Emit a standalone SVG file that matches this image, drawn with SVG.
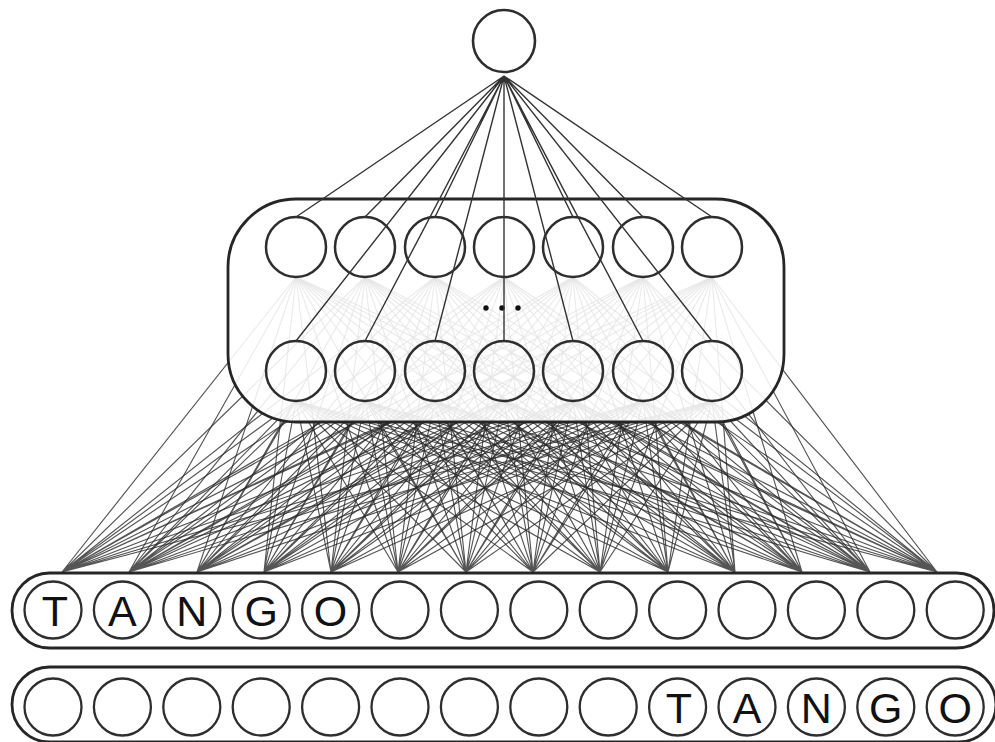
<svg xmlns="http://www.w3.org/2000/svg" width="995" height="742" viewBox="0 0 995 742">
<style>
.fan{fill:none;stroke:#2a2a2a;stroke-width:1.15;stroke-opacity:0.8}
.top{fill:none;stroke:#333;stroke-width:1.4}
.unit{fill:none;stroke:#2e2e2e;stroke-width:2.5}
.inunit{fill:#fff;stroke:#2e2e2e;stroke-width:2.3}
.box{fill:#fff;fill-opacity:0.88;stroke:#262626;stroke-width:2.8}
.row{fill:#fff;stroke:#262626;stroke-width:2.8}
.lt{font-family:"Liberation Sans",Arial,sans-serif;font-size:43px;fill:#111;text-anchor:middle}
</style>
<rect width="995" height="742" fill="#fff"/>
<g id="connectors">
<g id="input-fans">
<path class="fan" d="M62 572L296 277M62 572L365 277M62 572L435 277M62 572L504 277M62 572L573 277M62 572L643 277M62 572L712 277M62 572L296 401M62 572L365 401M62 572L435 401M62 572L504 401M62 572L573 401M62 572L643 401M62 572L712 401"/>
<path class="fan" d="M129 572L296 277M129 572L365 277M129 572L435 277M129 572L504 277M129 572L573 277M129 572L643 277M129 572L712 277M129 572L296 401M129 572L365 401M129 572L435 401M129 572L504 401M129 572L573 401M129 572L643 401M129 572L712 401"/>
<path class="fan" d="M197 572L296 277M197 572L365 277M197 572L435 277M197 572L504 277M197 572L573 277M197 572L643 277M197 572L712 277M197 572L296 401M197 572L365 401M197 572L435 401M197 572L504 401M197 572L573 401M197 572L643 401M197 572L712 401"/>
<path class="fan" d="M264 572L296 277M264 572L365 277M264 572L435 277M264 572L504 277M264 572L573 277M264 572L643 277M264 572L712 277M264 572L296 401M264 572L365 401M264 572L435 401M264 572L504 401M264 572L573 401M264 572L643 401M264 572L712 401"/>
<path class="fan" d="M331 572L296 277M331 572L365 277M331 572L435 277M331 572L504 277M331 572L573 277M331 572L643 277M331 572L712 277M331 572L296 401M331 572L365 401M331 572L435 401M331 572L504 401M331 572L573 401M331 572L643 401M331 572L712 401"/>
<path class="fan" d="M398 572L296 277M398 572L365 277M398 572L435 277M398 572L504 277M398 572L573 277M398 572L643 277M398 572L712 277M398 572L296 401M398 572L365 401M398 572L435 401M398 572L504 401M398 572L573 401M398 572L643 401M398 572L712 401"/>
<path class="fan" d="M466 572L296 277M466 572L365 277M466 572L435 277M466 572L504 277M466 572L573 277M466 572L643 277M466 572L712 277M466 572L296 401M466 572L365 401M466 572L435 401M466 572L504 401M466 572L573 401M466 572L643 401M466 572L712 401"/>
<path class="fan" d="M533 572L296 277M533 572L365 277M533 572L435 277M533 572L504 277M533 572L573 277M533 572L643 277M533 572L712 277M533 572L296 401M533 572L365 401M533 572L435 401M533 572L504 401M533 572L573 401M533 572L643 401M533 572L712 401"/>
<path class="fan" d="M600 572L296 277M600 572L365 277M600 572L435 277M600 572L504 277M600 572L573 277M600 572L643 277M600 572L712 277M600 572L296 401M600 572L365 401M600 572L435 401M600 572L504 401M600 572L573 401M600 572L643 401M600 572L712 401"/>
<path class="fan" d="M668 572L296 277M668 572L365 277M668 572L435 277M668 572L504 277M668 572L573 277M668 572L643 277M668 572L712 277M668 572L296 401M668 572L365 401M668 572L435 401M668 572L504 401M668 572L573 401M668 572L643 401M668 572L712 401"/>
<path class="fan" d="M735 572L296 277M735 572L365 277M735 572L435 277M735 572L504 277M735 572L573 277M735 572L643 277M735 572L712 277M735 572L296 401M735 572L365 401M735 572L435 401M735 572L504 401M735 572L573 401M735 572L643 401M735 572L712 401"/>
<path class="fan" d="M802 572L296 277M802 572L365 277M802 572L435 277M802 572L504 277M802 572L573 277M802 572L643 277M802 572L712 277M802 572L296 401M802 572L365 401M802 572L435 401M802 572L504 401M802 572L573 401M802 572L643 401M802 572L712 401"/>
<path class="fan" d="M870 572L296 277M870 572L365 277M870 572L435 277M870 572L504 277M870 572L573 277M870 572L643 277M870 572L712 277M870 572L296 401M870 572L365 401M870 572L435 401M870 572L504 401M870 572L573 401M870 572L643 401M870 572L712 401"/>
<path class="fan" d="M937 572L296 277M937 572L365 277M937 572L435 277M937 572L504 277M937 572L573 277M937 572L643 277M937 572L712 277M937 572L296 401M937 572L365 401M937 572L435 401M937 572L504 401M937 572L573 401M937 572L643 401M937 572L712 401"/>
</g>
</g>
<g id="hidden-layer">
<rect class="box" x="228" y="199" width="556" height="223" rx="68" ry="68"/>
<g id="h_top_0"><circle class="unit" cx="296" cy="247" r="30"/></g>
<g id="h_top_1"><circle class="unit" cx="365" cy="247" r="30"/></g>
<g id="h_top_2"><circle class="unit" cx="435" cy="247" r="30"/></g>
<g id="h_top_3"><circle class="unit" cx="504" cy="247" r="30"/></g>
<g id="h_top_4"><circle class="unit" cx="573" cy="247" r="30"/></g>
<g id="h_top_5"><circle class="unit" cx="643" cy="247" r="30"/></g>
<g id="h_top_6"><circle class="unit" cx="712" cy="247" r="30"/></g>
<g id="h_bot_0"><circle class="unit" cx="296" cy="371" r="30"/></g>
<g id="h_bot_1"><circle class="unit" cx="365" cy="371" r="30"/></g>
<g id="h_bot_2"><circle class="unit" cx="435" cy="371" r="30"/></g>
<g id="h_bot_3"><circle class="unit" cx="504" cy="371" r="30"/></g>
<g id="h_bot_4"><circle class="unit" cx="573" cy="371" r="30"/></g>
<g id="h_bot_5"><circle class="unit" cx="643" cy="371" r="30"/></g>
<g id="h_bot_6"><circle class="unit" cx="712" cy="371" r="30"/></g>
<g id="ellipsis" fill="#111"><circle cx="486" cy="308" r="2.7"/><circle cx="502" cy="308" r="2.7"/><circle cx="518" cy="308" r="2.7"/></g>
</g>
<g id="output-connectors">
<path class="top" d="M504 76L296 217M504 76L365 217M504 76L435 217M504 76L504 217M504 76L573 217M504 76L643 217M504 76L712 217M504 76L296 341M504 76L365 341M504 76L435 341M504 76L504 341M504 76L573 341M504 76L643 341M504 76L712 341"/>
</g>
<g id="out"><circle cx="504" cy="41" r="31" fill="#fff" stroke="#2e2e2e" stroke-width="2.6"/></g>
<g id="input-row-1">
<rect class="row" x="12" y="573" width="982" height="75" rx="37.5" ry="37.5"/>
<g id="in1_0"><circle class="inunit" cx="53" cy="610" r="28.5"/><text class="lt" x="55" y="626">T</text></g>
<g id="in1_1"><circle class="inunit" cx="122.4" cy="610" r="28.5"/><text class="lt" x="122.4" y="626">A</text></g>
<g id="in1_2"><circle class="inunit" cx="191.8" cy="610" r="28.5"/><text class="lt" x="191.8" y="626">N</text></g>
<g id="in1_3"><circle class="inunit" cx="261.2" cy="610" r="28.5"/><text class="lt" x="261.2" y="626">G</text></g>
<g id="in1_4"><circle class="inunit" cx="330.6" cy="610" r="28.5"/><text class="lt" x="330.6" y="626">O</text></g>
<g id="in1_5"><circle class="inunit" cx="400" cy="610" r="28.5"/></g>
<g id="in1_6"><circle class="inunit" cx="469.4" cy="610" r="28.5"/></g>
<g id="in1_7"><circle class="inunit" cx="538.8" cy="610" r="28.5"/></g>
<g id="in1_8"><circle class="inunit" cx="608.2" cy="610" r="28.5"/></g>
<g id="in1_9"><circle class="inunit" cx="677.6" cy="610" r="28.5"/></g>
<g id="in1_10"><circle class="inunit" cx="747" cy="610" r="28.5"/></g>
<g id="in1_11"><circle class="inunit" cx="816.4" cy="610" r="28.5"/></g>
<g id="in1_12"><circle class="inunit" cx="885.8" cy="610" r="28.5"/></g>
<g id="in1_13"><circle class="inunit" cx="955.2" cy="610" r="28.5"/></g>
</g>
<g id="input-row-2">
<rect class="row" x="12" y="667" width="984" height="75" rx="37.5" ry="37.5"/>
<g id="in2_0"><circle class="inunit" cx="53" cy="707" r="28.5"/></g>
<g id="in2_1"><circle class="inunit" cx="122.4" cy="707" r="28.5"/></g>
<g id="in2_2"><circle class="inunit" cx="191.8" cy="707" r="28.5"/></g>
<g id="in2_3"><circle class="inunit" cx="261.2" cy="707" r="28.5"/></g>
<g id="in2_4"><circle class="inunit" cx="330.6" cy="707" r="28.5"/></g>
<g id="in2_5"><circle class="inunit" cx="400" cy="707" r="28.5"/></g>
<g id="in2_6"><circle class="inunit" cx="469.4" cy="707" r="28.5"/></g>
<g id="in2_7"><circle class="inunit" cx="538.8" cy="707" r="28.5"/></g>
<g id="in2_8"><circle class="inunit" cx="608.2" cy="707" r="28.5"/></g>
<g id="in2_9"><circle class="inunit" cx="677.6" cy="707" r="28.5"/><text class="lt" x="679" y="723">T</text></g>
<g id="in2_10"><circle class="inunit" cx="747" cy="707" r="28.5"/><text class="lt" x="747" y="723">A</text></g>
<g id="in2_11"><circle class="inunit" cx="816.4" cy="707" r="28.5"/><text class="lt" x="816.4" y="723">N</text></g>
<g id="in2_12"><circle class="inunit" cx="885.8" cy="707" r="28.5"/><text class="lt" x="885.8" y="723">G</text></g>
<g id="in2_13"><circle class="inunit" cx="955.2" cy="707" r="28.5"/><text class="lt" x="955.2" y="723">O</text></g>
</g>
</svg>
